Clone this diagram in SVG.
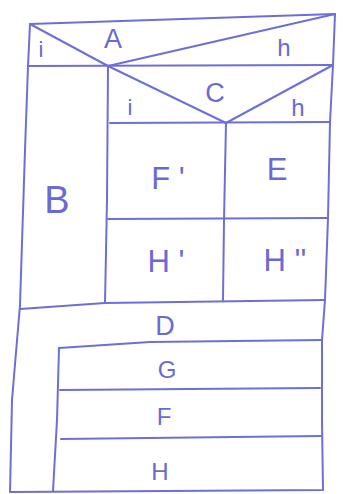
<svg xmlns="http://www.w3.org/2000/svg" width="344" height="494" viewBox="0 0 344 494">
<style>
.ln{fill:none;stroke:#6e6ed8;stroke-width:2;stroke-linecap:round;stroke-linejoin:round}
.t{font-family:"Liberation Sans",Arial,sans-serif;fill:#6a6ad4;text-anchor:middle}
.xl{font-size:38px}
.l{font-size:31px}
.m{font-size:27px}
.n{font-size:24px}
.s{font-size:22px}
</style>
<rect width="344" height="494" fill="#ffffff"/>
<g id="frame">
<path class="ln" d="M30,24 L335,14 L333,65 L330,122 L328,218 L325,300 L322,340 L322,420 L323,490 L10,492 L12,400 L20,305 L25,150 L28,66 Z"/>
</g>
<g id="decisionA">
<path class="ln" d="M28,66 L333,65"/>
<path class="ln" d="M30,24 L108,66 L335,14"/>
<text class="t s" x="41" y="57">i</text>
<text class="t m" x="113" y="48">A</text>
<text class="t n" x="284" y="56">h</text>
</g>
<g id="B">
<path class="ln" d="M108,66 L107,200 L105,303"/>
<text class="t xl" x="57" y="213">B</text>
</g>
<g id="decisionC">
<path class="ln" d="M110,123 L330,122"/>
<path class="ln" d="M108,66 L226,123 L333,65"/>
<text class="t s" x="130" y="115">i</text>
<text class="t m" x="215" y="102">C</text>
<text class="t n" x="298" y="116">h</text>
</g>
<g id="Fp">
<path class="ln" d="M226,123 L224,220 L223,300"/>
<path class="ln" d="M108,219 L328,218"/>
<text class="t l" x="168" y="189">F '</text>
</g>
<g id="E">
<text class="t l" x="277" y="180">E</text>
</g>
<g id="Hp">
<text class="t l" x="166" y="272">H '</text>
</g>
<g id="Hpp">
<text class="t l" x="285" y="271">H ''</text>
</g>
<g id="D">
<path class="ln" d="M20,309 L105,303 L325,300"/>
<text class="t m" x="165" y="335">D</text>
</g>
<g id="G">
<path class="ln" d="M59,348 L150,342 L322,340"/>
<path class="ln" d="M59,348 L57,420 L53,491"/>
<text class="t n" x="167" y="378">G</text>
</g>
<g id="F">
<path class="ln" d="M60,390 L320,388"/>
<text class="t n" x="164" y="425">F</text>
</g>
<g id="H">
<path class="ln" d="M61,439 L321,436"/>
<text class="t n" x="160" y="480">H</text>
</g>
</svg>
